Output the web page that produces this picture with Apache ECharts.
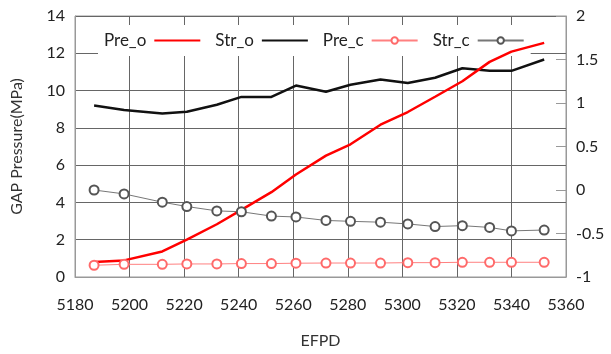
<!DOCTYPE html>
<html>
<head>
<meta charset="utf-8">
<script src="https://cdn.jsdelivr.net/npm/echarts@6/dist/echarts.min.js"></script>
<style>html,body{margin:0;padding:0;background:#fff;}#c{width:611px;height:354px;}</style>
</head>
<body>
<div id="c"></div>
<script>
const efpd = [5187, 5198, 5212, 5221, 5232, 5241, 5252, 5261, 5272, 5281, 5292, 5302, 5312, 5322, 5332, 5340, 5352];
const preO = [0.81, 0.89, 1.37, 2.0, 2.83, 3.6, 4.55, 5.5, 6.51, 7.12, 8.17, 8.85, 9.67, 10.5, 11.54, 12.09, 12.56];
const strO = [0.97, 0.92, 0.88, 0.90, 0.98, 1.07, 1.07, 1.20, 1.13, 1.21, 1.27, 1.23, 1.29, 1.40, 1.37, 1.37, 1.50];
const preC = [0.63, 0.68, 0.68, 0.70, 0.70, 0.72, 0.72, 0.74, 0.75, 0.75, 0.75, 0.77, 0.77, 0.79, 0.79, 0.79, 0.79];
const strC = [0.00, -0.045, -0.14, -0.19, -0.24, -0.25, -0.30, -0.31, -0.35, -0.36, -0.37, -0.39, -0.42, -0.41, -0.43, -0.47, -0.46];
const xTicks = {min: 5180, max: 5360, interval: 20};
const leftTicks = {min: 0, max: 14, interval: 2};
const rightTicks = {min: -1, max: 2, interval: 0.5};

const pair = (xs, ys) => xs.map((x, i) => [x, ys[i]]);
const font = 'Lato';
const chart = echarts.init(document.getElementById('c'), null, {renderer: 'canvas'});
chart.setOption({
  animation: false,
  backgroundColor: '#fff',
  textStyle: {fontFamily: font},
  grid: {left: 75, right: 45, top: 16, bottom: 72, show: true, borderColor: '#999', borderWidth: 1},
  legend: {
    z: 1,
    left: 98, top: 25, align: 'right', itemGap: 14, itemWidth: 46, itemHeight: 8,
    backgroundColor: '#fff', padding: [7, 6],
    textStyle: {fontFamily: font, fontSize: 17, color: '#222', padding: [0, 3, 0, 0]},
    data: [
      {name: 'Pre_o', itemStyle: {opacity: 0}},
      {name: 'Str_o', itemStyle: {opacity: 0}},
      {name: 'Pre_c'},
      {name: 'Str_c'}
    ]
  },
  xAxis: {
    type: 'value', min: xTicks.min, max: xTicks.max, interval: xTicks.interval,
    name: 'EFPD', nameLocation: 'middle', nameGap: 56,
    nameTextStyle: {fontFamily: font, fontSize: 16, color: '#333'},
    axisLine: {show: true, lineStyle: {color: '#999'}},
    axisTick: {show: false},
    axisLabel: {fontFamily: font, fontSize: 16, color: '#222', margin: 20, formatter: v => String(v)},
    splitLine: {show: true, lineStyle: {color: '#666', width: 1}}
  },
  yAxis: [{
    type: 'value', min: leftTicks.min, max: leftTicks.max, interval: leftTicks.interval,
    name: 'GAP Pressure(MPa)', nameLocation: 'middle', nameGap: 50, nameRotate: 90,
    nameTextStyle: {fontFamily: font, fontSize: 16, color: '#333'},
    axisLine: {show: true, lineStyle: {color: '#999'}},
    axisTick: {show: false},
    axisLabel: {fontFamily: font, fontSize: 16, color: '#222', margin: 10},
    splitLine: {show: true, lineStyle: {color: '#666', width: 1}}
  }, {
    type: 'value', min: rightTicks.min, max: rightTicks.max, interval: rightTicks.interval,
    position: 'right',
    axisLine: {show: true, lineStyle: {color: '#999'}},
    axisTick: {show: true, inside: true, length: 10, lineStyle: {color: '#999'}},
    axisLabel: {fontFamily: font, fontSize: 16, color: '#222', margin: 10},
    splitLine: {show: false}
  }],
  series: [
    {name: 'Str_c', type: 'line', z: 3, yAxisIndex: 1, data: pair(efpd, strC), symbol: 'emptyCircle', symbolSize: 9,
     lineStyle: {color: '#777', width: 1}, itemStyle: {color: '#555', borderColor: '#555', borderWidth: 1}},
    {name: 'Pre_c', type: 'line', z: 3, yAxisIndex: 0, data: pair(efpd, preC), symbol: 'emptyCircle', symbolSize: 9,
     lineStyle: {color: '#ff8080', width: 1}, itemStyle: {color: '#ff6a6a', borderColor: '#ff6a6a', borderWidth: 1}},
    {name: 'Str_o', type: 'line', z: 3, yAxisIndex: 1, data: pair(efpd, strO), symbol: 'none',
     lineStyle: {color: '#111', width: 2.5}, itemStyle: {color: '#111'}},
    {name: 'Pre_o', type: 'line', z: 3, yAxisIndex: 0, data: pair(efpd, preO), symbol: 'none',
     lineStyle: {color: '#ff0000', width: 2.5}, itemStyle: {color: '#ff0000'}}
  ]
});
</script>
</body>
</html>
